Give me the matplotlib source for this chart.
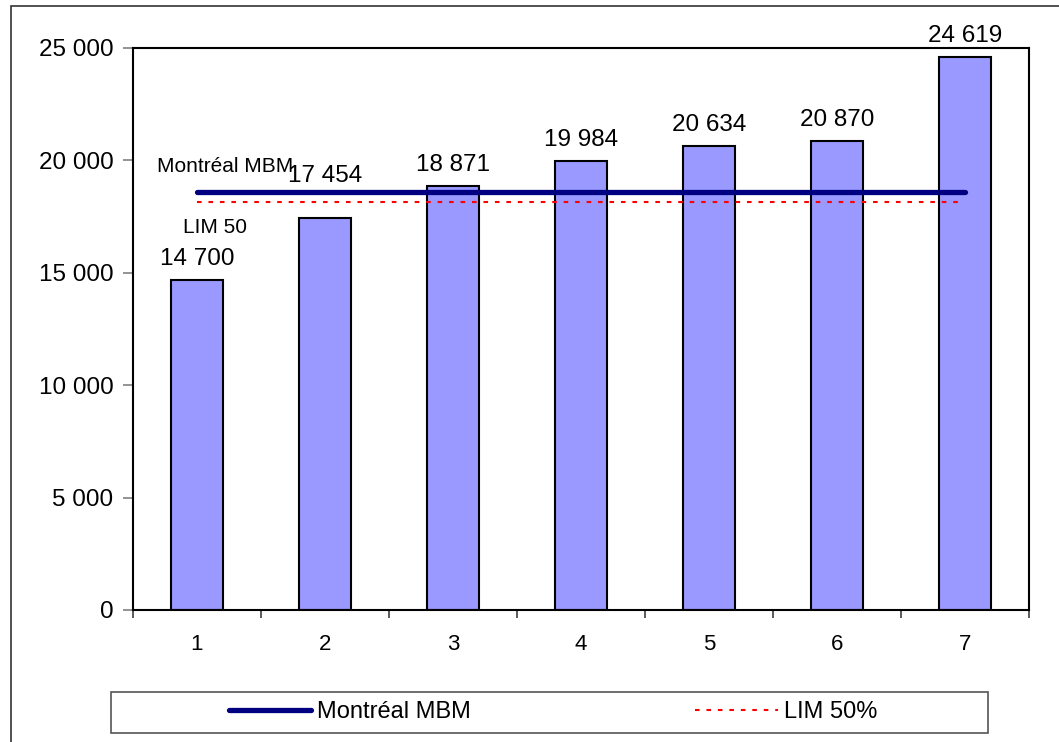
import matplotlib.pyplot as plt
from matplotlib.patches import Rectangle
from matplotlib.lines import Line2D
from matplotlib.ticker import FuncFormatter, MultipleLocator

plt.rcParams['font.family'] = ['Liberation Sans', 'DejaVu Sans']

# income by household group, with the two thresholds
categories = [1, 2, 3, 4, 5, 6, 7]
values = [14700, 17454, 18871, 19984, 20634, 20870, 24619]
mbm_montreal = 18600
lim_50 = 18130

BAR_COLOR = '#9999FF'
MBM_COLOR = '#000080'
LIM_COLOR = '#FF0000'
DOTTED = (0, (2.2, 3.3))

fig = plt.figure(figsize=(10.59, 7.42), dpi=100)
W, H = 1059, 742
ax = fig.add_axes([133 / W, 1 - 610 / H, (1029 - 133) / W, (610 - 48) / H])

ax.bar(categories, values, width=0.41, color=BAR_COLOR, edgecolor='black', linewidth=1.5, zorder=2)

# the label of bar 2 is lifted clear of the threshold lines
lift = {2: 15}
for x, v in zip(categories, values):
    ax.annotate(f"{v:,}".replace(",", " "), (x, v), xytext=(0, 7 + lift.get(x, 0)),
                textcoords='offset points', ha='center', va='bottom', fontsize=17.5)

ax.plot([categories[0], categories[-1]], [mbm_montreal] * 2, color=MBM_COLOR, lw=3.8,
        solid_capstyle='round', zorder=3)
ax.plot([categories[0], categories[-1] - 0.05], [lim_50] * 2, color=LIM_COLOR, lw=1.5,
        linestyle=DOTTED, zorder=3)

ax.text(0.69, 19480, "Montréal MBM", fontsize=15, ha='left', va='baseline')
ax.text(0.89, 16770, "LIM 50", fontsize=15, ha='left', va='baseline')

ax.set_xlim(0.5, 7.5)
ax.set_ylim(0, 25000)
ax.yaxis.set_major_locator(MultipleLocator(5000))
ax.yaxis.set_major_formatter(FuncFormatter(lambda v, p: f"{int(v):,}".replace(",", " ")))
ax.tick_params(axis='y', length=7, width=1.2, color='#808080', pad=7, labelsize=17.5)

# category labels sit between boundary ticks
ax.set_xticks(categories)
ax.set_xticks([c + 0.5 for c in [0] + categories], minor=True)
ax.tick_params(axis='x', which='major', length=0, pad=17, labelsize=16)
ax.tick_params(axis='x', which='minor', length=6, width=1.2, color='#404040')

for s in ax.spines.values():
    s.set_linewidth(1.5)
    s.set_color('black')

# legend box across the bottom
fig.patches.append(Rectangle((111 / W, 1 - 733 / H), (988 - 111) / W, (733 - 692) / H,
                             transform=fig.transFigure, fill=False, edgecolor='#555555', lw=1.2))
handles = [Line2D([], [], color=MBM_COLOR, lw=3.8, solid_capstyle='round'),
           Line2D([], [], color=LIM_COLOR, lw=1.5, linestyle=DOTTED)]
fig.legend(handles, ["Montréal MBM", "LIM 50%"], loc='center', bbox_to_anchor=(553 / W, 1 - 712 / H),
           ncol=2, frameon=False, fontsize=17, handlelength=3.5, handletextpad=0.25,
           columnspacing=9.5)

# outer chart frame
fig.patches.append(Rectangle((11 / W, -0.05), 1.1, 1 - 6 / H + 0.05,
                             transform=fig.transFigure, fill=False, edgecolor='#333333', lw=1.2))

fig.savefig('out.png', dpi=100)
